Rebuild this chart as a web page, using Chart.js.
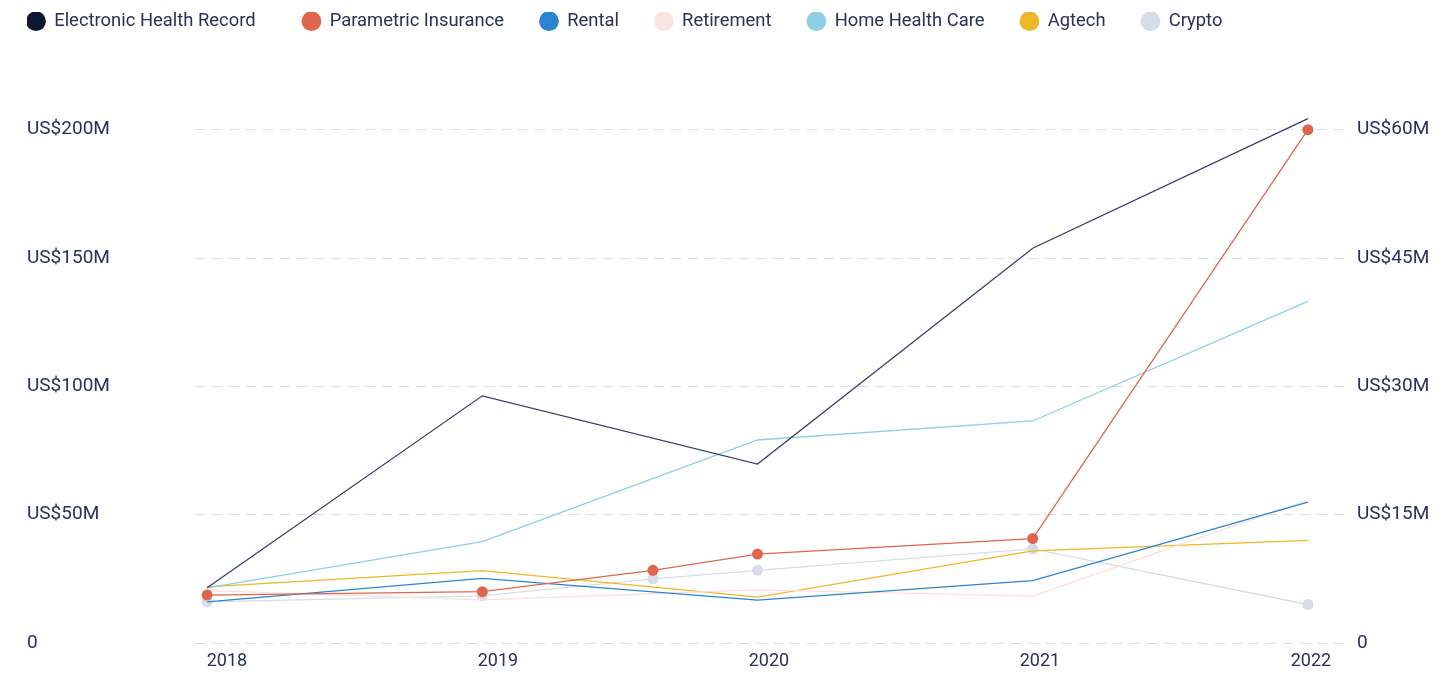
<!DOCTYPE html>
<html>
<head>
<meta charset="utf-8">
<script src="https://cdn.jsdelivr.net/npm/chart.js@4"></script>
<style>
	html, body { margin: 0; padding: 0; background: #fff; }
	#wrap { width: 1455px; height: 674px; }
</style>
</head>
<body>
<div id="wrap"><canvas id="trendChart"></canvas></div>
<script>
// x positions (years); Parametric Insurance and Crypto have one extra mid-2019 reading
const years = [2018, 2019, 2020, 2021, 2022];
const yearsExtra = [2018, 2019, 2019.62, 2020, 2021, 2022];

// left axis, US$ millions
const ehrValues = [21.5, 96.3, 69.7, 153.8, 204.3];
const rentalValues = [16.0, 25.2, 16.7, 24.3, 54.9];
const retirementValues = [20.4, 16.8, 20.7, 18.3, 55.8];
const homeHealthValues = [21.5, 39.5, 79.1, 86.5, 133.1];
const agtechValues = [21.9, 28.2, 17.9, 35.9, 40.0];

// right axis, US$ millions
const parametricValues = [5.6, 6.0, 8.5, 10.4, 12.2, 60.0];
const cryptoValues = [4.8, 5.5, 7.5, 8.5, 11.0, 4.5];

const leftTicks = [0, 50, 100, 150, 200];
const rightTicks = [0, 15, 30, 45, 60];

const textColor = '#283159';
const tickFont = { family: 'Roboto', size: 19 };
const labelFont = { family: 'Roboto', size: 18 };
const legendFont = { family: 'Roboto', size: 18.4 };

function points(xs, ys) {
	return xs.map((x, i) => ({ x: x, y: ys[i] }));
}

function money(v) {
	return v === 0 ? '0' : 'US$' + v + 'M';
}

function series(label, xs, ys, color, lineColor, axis, dots) {
	return {
		label: label,
		data: points(xs, ys),
		yAxisID: axis,
		borderColor: lineColor,
		backgroundColor: color,
		pointBackgroundColor: color,
		pointBorderWidth: 0,
		pointRadius: dots ? 5.5 : 0,
		borderWidth: 1.3,
		tension: 0
	};
}

// taller legend box so the plot starts lower
const legendSpace = {
	id: 'legendSpace',
	beforeInit(chart) {
		const fit = chart.legend.fit;
		chart.legend.fit = function () {
			fit.call(this);
			this.height = 92;
		};
	}
};

Chart.defaults.font.family = 'Roboto';
Chart.defaults.color = textColor;

const trendChart = new Chart(document.getElementById('trendChart'), {
	type: 'line',
	data: {
		datasets: [
			series('Electronic Health Record', years, ehrValues, '#0d1633', '#34406b', 'y', false),
			series('Parametric Insurance', yearsExtra, parametricValues, '#e0654f', '#e0654f', 'y2', true),
			series('Rental', years, rentalValues, '#2a84d2', '#2a84d2', 'y', false),
			series('Retirement', years, retirementValues, '#fbe3df', '#fbe0dc', 'y', false),
			series('Home Health Care', years, homeHealthValues, '#8ecfe3', '#8ecfe3', 'y', false),
			series('Agtech', years, agtechValues, '#f0b62a', '#f0b62a', 'y', false),
			series('Crypto', yearsExtra, cryptoValues, '#d6dde9', '#d6dde9', 'y2', true)
		]
	},
	plugins: [legendSpace],
	options: {
		responsive: true,
		maintainAspectRatio: false,
		animation: false,
		layout: { padding: { left: 27, top: 12, right: 0, bottom: 0 } },
		plugins: {
			tooltip: { enabled: false },
			legend: {
				position: 'top',
				align: 'start',
				labels: {
					usePointStyle: true,
					pointStyle: 'circle',
					boxWidth: 18,
					boxHeight: 14,
					padding: 0,
					color: textColor,
					font: legendFont,
					generateLabels(chart) {
						const items = Chart.defaults.plugins.legend.labels.generateLabels(chart);
						items.forEach((item, i) => {
							// the first entry sits a little further from the rest
							item.text = item.text + (i === 0 ? '\u2003\u2003\u2005\u2005' : '\u2003\u2002\u2005\u2006');
							item.lineWidth = 0;
						});
						return items;
					}
				}
			}
		},
		scales: {
			x: {
				type: 'linear',
				display: false,
				min: 2017.956,
				max: 2022.142
			},
			xLabels: {
				type: 'linear',
				position: 'bottom',
				min: 2017.882,
				max: 2022.133,
				grid: { display: false },
				border: { display: false },
				afterBuildTicks(axis) {
					axis.ticks = years.map(v => ({ value: v }));
				},
				afterFit(axis) {
					axis.height = 31;
				},
				ticks: {
					padding: 0,
					color: textColor,
					font: labelFont,
					maxRotation: 0,
					callback: v => String(v)
				}
			},
			y: {
				position: 'left',
				min: 0,
				max: 210,
				afterBuildTicks(axis) {
					axis.ticks = leftTicks.map(v => ({ value: v }));
				},
				afterFit(axis) {
					axis.width = 168;
				},
				grid: {
					color: '#d8deeb',
					lineWidth: 1,
					drawTicks: false
				},
				border: { display: false, dash: [10, 7] },
				ticks: {
					crossAlign: 'far',
					color: textColor,
					font: tickFont,
					callback: v => money(v)
				}
			},
			y2: {
				position: 'right',
				min: 0,
				max: 63,
				afterBuildTicks(axis) {
					axis.ticks = rightTicks.map(v => ({ value: v }));
				},
				afterFit(axis) {
					axis.width = 108;
				},
				grid: { display: false, drawTicks: false },
				border: { display: false },
				ticks: {
					crossAlign: 'near',
					padding: 10,
					color: textColor,
					font: tickFont,
					callback: v => money(v)
				}
			}
		}
	}
});
</script>
</body>
</html>
